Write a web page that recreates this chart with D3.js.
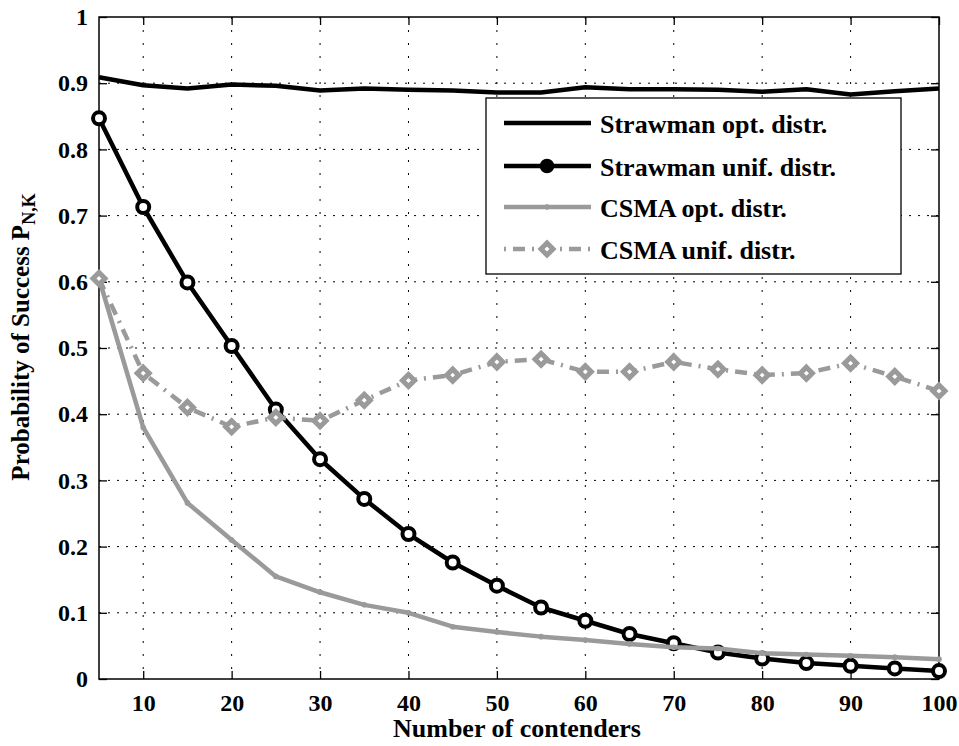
<!DOCTYPE html>
<html>
<head>
<meta charset="utf-8">
<script src="https://cdn.jsdelivr.net/npm/d3@7"></script>
<style>
  html, body { margin: 0; padding: 0; background: #fff; }
  svg { display: block; }
  text { font-family: "Liberation Serif", "Times New Roman", "DejaVu Serif", serif; font-weight: bold; fill: #000; }
</style>
</head>
<body>
<svg id="chart" width="959" height="746"></svg>
<script>
// ---- data ----
const contenders = [5,10,15,20,25,30,35,40,45,50,55,60,65,70,75,80,85,90,95,100];
const strawmanOpt  = [0.909,0.897,0.892,0.898,0.896,0.889,0.892,0.890,0.889,0.886,0.886,0.894,0.891,0.891,0.890,0.887,0.891,0.883,0.888,0.892];
const strawmanUnif = [0.847,0.713,0.599,0.503,0.407,0.332,0.272,0.219,0.176,0.141,0.108,0.088,0.068,0.054,0.040,0.031,0.024,0.020,0.016,0.012];
const csmaOpt      = [0.605,0.380,0.266,0.210,0.155,0.131,0.112,0.100,0.079,0.071,0.064,0.059,0.053,0.048,0.046,0.039,0.037,0.035,0.033,0.030];
const csmaUnif     = [0.605,0.462,0.410,0.381,0.395,0.390,0.421,0.451,0.459,0.479,0.483,0.464,0.464,0.479,0.468,0.459,0.462,0.477,0.457,0.435];
const seriesNames  = ["Strawman opt. distr.","Strawman unif. distr.","CSMA opt. distr.","CSMA unif. distr."];
const xTicks = [10,20,30,40,50,60,70,80,90,100];
const yTicks = [0,0.1,0.2,0.3,0.4,0.5,0.6,0.7,0.8,0.9,1];
const xLabel = "Number of contenders";
const yLabel = "Probability of Success P";
const ySub = "N,K";

// ---- layout ----
const L = 99, R = 939, T = 17, B = 679;
const gray = "#9a9a9a";
const FONT = "Liberation Serif, Times New Roman, DejaVu Serif, serif";
const svg = d3.select("#chart");
const x = d3.scaleLinear().domain([5,100]).range([L,R]);
const y = d3.scaleLinear().domain([0,1]).range([B,T]);

// grid
const grid = svg.append("g");
grid.selectAll("line.v").data(xTicks.filter(d=>d<100)).join("line")
  .attr("x1", d=>x(d)).attr("x2", d=>x(d)).attr("y1", T).attr("y2", B)
  .attr("stroke","#000").attr("stroke-width",1).attr("stroke-dasharray","2,11");
grid.selectAll("line.h").data(yTicks.filter(d=>d>0 && d<1)).join("line")
  .attr("y1", d=>y(d)).attr("y2", d=>y(d)).attr("x1", L).attr("x2", R)
  .attr("stroke","#000").attr("stroke-width",1).attr("stroke-dasharray","2,7");

// axes with inward ticks
const tk = 8;
const axB = svg.append("g").attr("transform",`translate(0,${B})`)
  .call(d3.axisBottom(x).tickValues(xTicks).tickSizeInner(-tk).tickSizeOuter(0).tickPadding(15).tickFormat(d3.format("d")));
const axT = svg.append("g").attr("transform",`translate(0,${T})`)
  .call(d3.axisTop(x).tickValues(xTicks).tickSizeInner(-tk).tickSizeOuter(0).tickFormat(""));
const axL = svg.append("g").attr("transform",`translate(${L},0)`)
  .call(d3.axisLeft(y).tickValues(yTicks).tickSizeInner(-tk).tickSizeOuter(0).tickPadding(11).tickFormat(d=>d===0?"0":d===1?"1":d3.format(".1f")(d)));
const axR = svg.append("g").attr("transform",`translate(${R},0)`)
  .call(d3.axisRight(y).tickValues(yTicks).tickSizeInner(-tk).tickSizeOuter(0).tickFormat(""));
[axB,axT,axL,axR].forEach(a=>{
  a.attr("font-family",FONT);
  a.select(".domain").remove();
  a.selectAll(".tick line").attr("stroke","#000").attr("stroke-width",1.3);
  a.selectAll("text").attr("font-size",24).attr("font-family",FONT).attr("font-weight","bold").attr("fill","#000");
});
axB.selectAll("text").attr("dy","0.71em");
svg.append("rect").attr("x",L).attr("y",T).attr("width",R-L).attr("height",B-T)
  .attr("fill","none").attr("stroke","#000").attr("stroke-width",1.5);

// series
const pts = arr => contenders.map((c,i)=>[c,arr[i]]);
const line = d3.line().x(d=>x(d[0])).y(d=>y(d[1]));
const plot = svg.append("g");

plot.append("path").attr("d",line(pts(strawmanOpt))).attr("fill","none")
  .attr("stroke","#000").attr("stroke-width",4.5).attr("stroke-linejoin","round");

plot.append("path").attr("d",line(pts(strawmanUnif))).attr("fill","none")
  .attr("stroke","#000").attr("stroke-width",4.5).attr("stroke-linejoin","round");
plot.selectAll("circle.su").data(pts(strawmanUnif)).join("circle")
  .attr("cx",d=>x(d[0])).attr("cy",d=>y(d[1])).attr("r",6)
  .attr("fill","#fff").attr("stroke","#000").attr("stroke-width",4);

plot.append("path").attr("d",line(pts(csmaOpt))).attr("fill","none")
  .attr("stroke",gray).attr("stroke-width",4.5).attr("stroke-linejoin","round");
plot.selectAll("circle.co").data(pts(csmaOpt)).join("circle")
  .attr("cx",d=>x(d[0])).attr("cy",d=>y(d[1])).attr("r",2.8).attr("fill",gray);

plot.append("path").attr("d",line(pts(csmaUnif))).attr("fill","none")
  .attr("stroke",gray).attr("stroke-width",4.5).attr("stroke-dasharray","12,7,2,7");
const diamond = "M0,-6L6,0L0,6L-6,0Z";
plot.selectAll("path.cu").data(pts(csmaUnif)).join("path")
  .attr("d",diamond).attr("transform",d=>`translate(${x(d[0])},${y(d[1])})`)
  .attr("fill","#fff").attr("stroke",gray).attr("stroke-width",5).attr("stroke-linejoin","miter");

// legend
const lg = svg.append("g");
lg.append("rect").attr("x",486).attr("y",98).attr("width",415).attr("height",176)
  .attr("fill","#fff").attr("stroke","#000").attr("stroke-width",1.3);
const rows = [123,166,207,249];
const lx1 = 504, lx2 = 591, lxm = 547;
seriesNames.forEach((name,i)=>{
  const ry = rows[i];
  const g = lg.append("g");
  if (i===0) {
    g.append("line").attr("x1",lx1).attr("x2",lx2).attr("y1",ry).attr("y2",ry).attr("stroke","#000").attr("stroke-width",4.5);
  } else if (i===1) {
    g.append("line").attr("x1",lx1).attr("x2",lx2).attr("y1",ry).attr("y2",ry).attr("stroke","#000").attr("stroke-width",4.5);
    g.append("circle").attr("cx",lxm).attr("cy",ry).attr("r",5.5).attr("fill","#000").attr("stroke","#000").attr("stroke-width",3.5);
  } else if (i===2) {
    g.append("line").attr("x1",lx1).attr("x2",lx2).attr("y1",ry).attr("y2",ry).attr("stroke",gray).attr("stroke-width",4.5);
    g.append("circle").attr("cx",lxm).attr("cy",ry).attr("r",2.8).attr("fill",gray);
  } else {
    g.append("line").attr("x1",lx1).attr("x2",lx2).attr("y1",ry).attr("y2",ry).attr("stroke",gray).attr("stroke-width",4.5).attr("stroke-dasharray","2,7,12,7");
    g.append("path").attr("d",diamond).attr("transform",`translate(${lxm},${ry})`)
      .attr("fill","#fff").attr("stroke",gray).attr("stroke-width",5);
  }
  g.append("text").attr("x",600).attr("y",ry+9.5).attr("font-size",26).attr("font-family",FONT).text(name);
});

// axis labels
svg.append("text").attr("x",517).attr("y",737).attr("text-anchor","middle").attr("font-size",26).attr("font-family",FONT).text(xLabel);
const yl = svg.append("text").attr("transform","translate(28.5,337) rotate(-90)").attr("text-anchor","middle").attr("font-size",25).attr("font-family",FONT);
yl.append("tspan").text(yLabel);
yl.append("tspan").attr("font-size",18).attr("dy",6).text(ySub);
</script>
</body>
</html>
